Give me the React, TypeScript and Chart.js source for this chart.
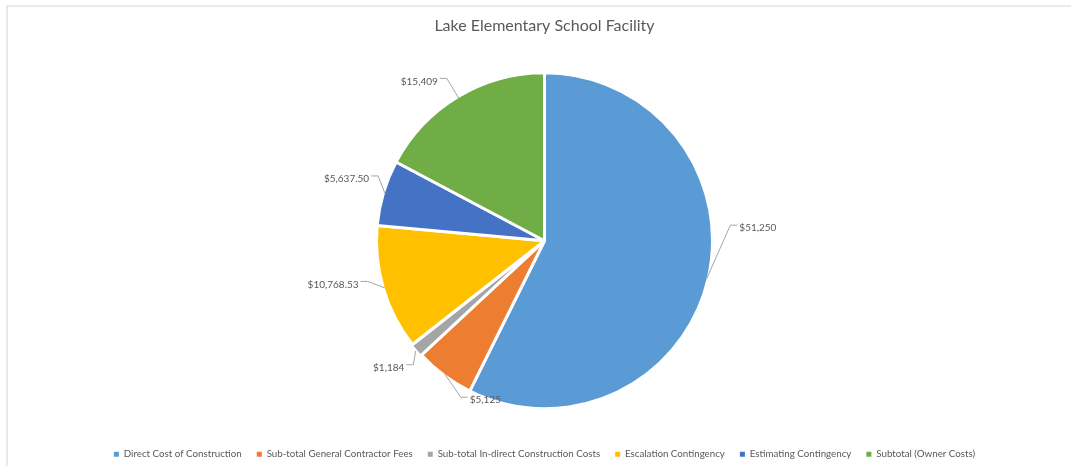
import React, { useEffect, useRef } from "react";
import { Chart, registerables } from "chart.js";

Chart.register(...registerables);

const categories = [
  "Direct Cost of Construction",
  "Sub-total General Contractor Fees",
  "Sub-total In-direct Construction Costs",
  "Escalation Contingency",
  "Estimating Contingency",
  "Subtotal (Owner Costs)",
];

const costs = [51250, 5125, 1184, 10768.53, 5637.5, 15409];

const valueLabels = ["$51,250", "$5,125", "$1,184", "$10,768.53", "$5,637.50", "$15,409"];

const sliceColors = ["#5B9BD5", "#ED7D31", "#A5A5A5", "#FFC000", "#4472C4", "#70AD47"];

// Leader line elbows: angular shift (degrees, clockwise) from the slice middle
// and distance beyond the pie edge.
const elbowShift = [-18, -8.6, -2.9, 3.5, 4.7, 0];
const elbowGap = [20, 11, 11, 15, 12, 23];

const TEXT = "#595959";
const FONT = "Lato, 'Open Sans', sans-serif";

const leaderLabels = {
  id: "leaderLabels",
  afterDatasetsDraw(chart: any) {
    const meta = chart.getDatasetMeta(0);
    const ctx = chart.ctx;
    ctx.save();
    ctx.font = `10px ${FONT}`;
    ctx.textBaseline = "middle";
    meta.data.forEach((arc: any, i: number) => {
      const offset = (arc.options && arc.options.offset) || 0;
      const mid = (arc.startAngle + arc.endAngle) / 2;
      const cx = arc.x + Math.cos(mid) * offset;
      const cy = arc.y + Math.sin(mid) * offset;
      const r = arc.outerRadius - 1.5;
      const sx = cx + Math.cos(mid) * r;
      const sy = cy + Math.sin(mid) * r;
      const ea = mid + (elbowShift[i] * Math.PI) / 180;
      const er = r + elbowGap[i];
      const ex = cx + Math.cos(ea) * er;
      const ey = cy + Math.sin(ea) * er;
      // the label sits on the side the leader line heads towards
      const right = ex >= sx;
      const hx = ex + (right ? 7 : -7);
      ctx.strokeStyle = "#A6A6A6";
      ctx.lineWidth = 1;
      ctx.beginPath();
      ctx.moveTo(sx, sy);
      ctx.lineTo(ex, ey);
      ctx.lineTo(hx, ey);
      ctx.stroke();
      ctx.fillStyle = TEXT;
      ctx.textAlign = right ? "left" : "right";
      ctx.fillText(valueLabels[i], hx + (right ? 2 : -2), ey + 3);
    });
    ctx.restore();
  },
};

export default function App() {
  const ref = useRef<HTMLCanvasElement | null>(null);

  useEffect(() => {
    if (!ref.current) return;
    const chart = new Chart(ref.current, {
      type: "pie",
      data: {
        labels: categories,
        datasets: [
          {
            data: costs,
            backgroundColor: sliceColors,
            borderColor: "#FFFFFF",
            borderWidth: 3,
            offset: [0, 0, 3, 0, 0, 0],
          },
        ],
      },
      options: {
        responsive: false,
        animation: false,
        radius: 168,
        layout: { padding: { left: 18, right: 0, top: 6, bottom: -3 } },
        plugins: {
          title: {
            display: true,
            text: "Lake Elementary School Facility",
            color: TEXT,
            font: { family: FONT, size: 16, weight: "normal" },
            padding: { top: 10, bottom: 12 },
          },
          legend: {
            position: "bottom",
            labels: {
              color: TEXT,
              font: { family: FONT, size: 9.75 },
              boxWidth: 5,
              boxHeight: 5,
              padding: 15,
              generateLabels(chart: any) {
                const items = Chart.overrides.pie.plugins.legend.labels.generateLabels(chart);
                return items.map((it: any) => ({ ...it, lineWidth: 0, strokeStyle: it.fillStyle }));
              },
            },
          },
          tooltip: { enabled: false },
        },
      },
      plugins: [leaderLabels],
    });
    return () => chart.destroy();
  }, []);

  return (
    <div style={{ position: "fixed", left: 0, top: 0, width: 1071, height: 466, background: "#fff", overflow: "hidden" }}>
      <div
        style={{
          position: "absolute",
          left: 6,
          top: 5,
          width: 1100,
          height: 500,
          borderTop: "2px solid #EAEAEA",
          borderLeft: "2px solid #EAEAEA",
        }}
      />
      <canvas ref={ref} width={1071} height={466} style={{ position: "absolute", left: 0, top: 0 }} />
    </div>
  );
}
